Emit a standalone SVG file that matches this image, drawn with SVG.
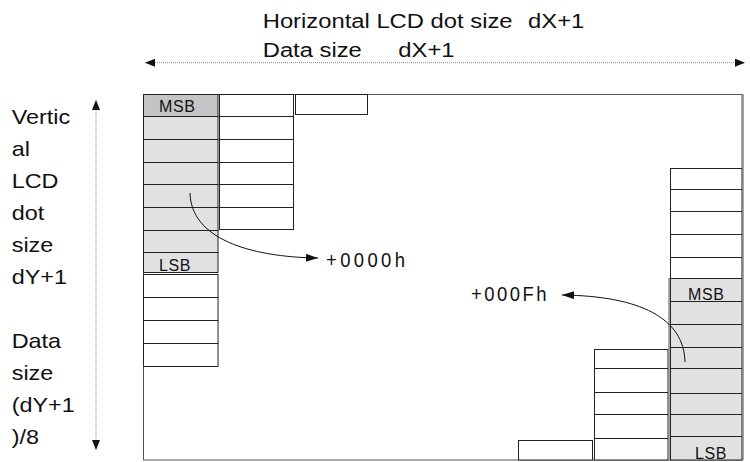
<svg xmlns="http://www.w3.org/2000/svg" width="750" height="462" viewBox="0 0 750 462">
<style>
.t{font-family:"Liberation Sans",Arial,sans-serif;font-size:20px;fill:#111}
.b{font-family:"Liberation Sans",Arial,sans-serif;font-size:16px;fill:#111;letter-spacing:0.6px}
.h{font-family:"Liberation Sans",Arial,sans-serif;font-size:21px;fill:#111}
.cell{fill:#fff;stroke:#222;stroke-width:1}
.g{fill:#e1e1e1;stroke:#222;stroke-width:1}
.dk{fill:#c4c4c4;stroke:#222;stroke-width:1}
.dim{stroke:#888;stroke-width:1;stroke-dasharray:1 1;fill:none}
.cv{stroke:#111;stroke-width:1;fill:none}
</style>
<defs>
<marker id="ah" viewBox="0 0 10 8" refX="10" refY="4" markerWidth="10" markerHeight="8" markerUnits="userSpaceOnUse" orient="auto-start-reverse">
<path d="M0,0 L10,4 L0,8 z" fill="#111"/>
</marker>
<marker id="ah2" viewBox="0 0 12 8" refX="12" refY="4" markerWidth="12" markerHeight="8" markerUnits="userSpaceOnUse" orient="auto">
<path d="M0,0 L12,4 L0,8 z" fill="#111"/>
</marker>
</defs>

<g id="title">
<text class="t" transform="translate(262.7,28.3) scale(1.19,1)"><tspan x="0">Horizontal LCD dot size</tspan><tspan x="223">dX+1</tspan></text>
<text class="t" transform="translate(262.7,57.3) scale(1.19,1)"><tspan x="0">Data size</tspan><tspan x="114">dX+1</tspan></text>
</g>

<g id="vlabel">
<text class="t" transform="translate(11.7,124.3) scale(1.17,1)"><tspan x="0" y="0">Vertic</tspan><tspan x="0" y="32">al</tspan><tspan x="0" y="64">LCD</tspan><tspan x="0" y="96">dot</tspan><tspan x="0" y="128">size</tspan><tspan x="0" y="160">dY+1</tspan><tspan x="0" y="224">Data</tspan><tspan x="0" y="256">size</tspan><tspan x="0" y="288">(dY+1</tspan><tspan x="0" y="320">)/8</tspan></text>
</g>

<g id="frame">
<rect x="143.5" y="94.5" width="598.5" height="365.5" fill="none" stroke="#555" stroke-width="1"/>
</g>

<g id="col-left">
<rect class="dk" x="143.5" y="94.5" width="74.5" height="22"/>
<rect class="g" x="143.5" y="116.5" width="74.5" height="23"/>
<rect class="g" x="143.5" y="139.5" width="74.5" height="23"/>
<rect class="g" x="143.5" y="162.5" width="74.5" height="22"/>
<rect class="g" x="143.5" y="184.5" width="74.5" height="23"/>
<rect class="g" x="143.5" y="207.5" width="74.5" height="23"/>
<rect class="g" x="143.5" y="230.5" width="74.5" height="22"/>
<rect class="g" x="143.5" y="252.5" width="74.5" height="20"/>
<text class="b" x="159" y="112">MSB</text>
<text class="b" x="159" y="271">LSB</text>
<rect class="cell" x="143.5" y="274.5" width="74.5" height="23"/>
<rect class="cell" x="143.5" y="297.5" width="74.5" height="23"/>
<rect class="cell" x="143.5" y="320.5" width="74.5" height="23"/>
<rect class="cell" x="143.5" y="343.5" width="74.5" height="23"/>
</g>

<g id="col-2">
<rect class="cell" x="219.5" y="94.5" width="74" height="22"/>
<rect class="cell" x="219.5" y="116.5" width="74" height="23"/>
<rect class="cell" x="219.5" y="139.5" width="74" height="23"/>
<rect class="cell" x="219.5" y="162.5" width="74" height="22"/>
<rect class="cell" x="219.5" y="184.5" width="74" height="23"/>
<rect class="cell" x="219.5" y="207.5" width="74" height="22"/>
</g>

<g id="col-3">
<rect class="cell" x="295.5" y="94.5" width="72" height="20"/>
</g>

<g id="col-small">
<rect class="cell" x="518.5" y="440.5" width="74" height="19.5"/>
</g>

<g id="col-mid">
<rect class="cell" x="594.5" y="349.5" width="73.5" height="19"/>
<rect class="cell" x="594.5" y="368.5" width="73.5" height="24"/>
<rect class="cell" x="594.5" y="392.5" width="73.5" height="22"/>
<rect class="cell" x="594.5" y="414.5" width="73.5" height="24"/>
<rect class="cell" x="594.5" y="438.5" width="73.5" height="21.5"/>
</g>

<g id="col-right">
<rect class="cell" x="670.5" y="168.5" width="71.5" height="21"/>
<rect class="cell" x="670.5" y="189.5" width="71.5" height="22"/>
<rect class="cell" x="670.5" y="211.5" width="71.5" height="23"/>
<rect class="cell" x="670.5" y="234.5" width="71.5" height="23"/>
<rect class="cell" x="670.5" y="257.5" width="71.5" height="21"/>
<rect class="g" x="670.5" y="278.5" width="71.5" height="23"/>
<rect class="g" x="670.5" y="301.5" width="71.5" height="23"/>
<rect class="g" x="670.5" y="324.5" width="71.5" height="23"/>
<rect class="g" x="670.5" y="347.5" width="71.5" height="21"/>
<rect class="g" x="670.5" y="368.5" width="71.5" height="25"/>
<rect class="g" x="670.5" y="393.5" width="71.5" height="21"/>
<rect class="g" x="670.5" y="414.5" width="71.5" height="22"/>
<rect class="g" x="670.5" y="436.5" width="71.5" height="23.5"/>
<line x1="669" y1="278" x2="669" y2="460" stroke="#888" stroke-width="1.5"/>
<line x1="743" y1="94" x2="743" y2="460" stroke="#888" stroke-width="1.5"/>
<text class="b" x="688" y="300">MSB</text>
<text class="b" x="695" y="459">LSB</text>
</g>

<g id="connectors">
<line class="dim" x1="145" y1="62.7" x2="745" y2="62.7" marker-start="url(#ah)" marker-end="url(#ah)"/>
<line class="dim" x1="96" y1="100" x2="96" y2="450" marker-start="url(#ah)" marker-end="url(#ah)"/>
<path class="cv" d="M190,193 C191,238 248,257 318,258" marker-end="url(#ah2)"/>
<path class="cv" d="M685,362 C684,318 640,296 562,295" marker-end="url(#ah2)"/>
</g>

<g id="offsets">
<text class="h" transform="translate(326,266.7) scale(0.88,1)" textLength="89.8" lengthAdjust="spacing">+0000h</text>
<text class="h" transform="translate(471,300.5) scale(0.88,1)" textLength="85.8" lengthAdjust="spacing">+000Fh</text>
</g>
</svg>
